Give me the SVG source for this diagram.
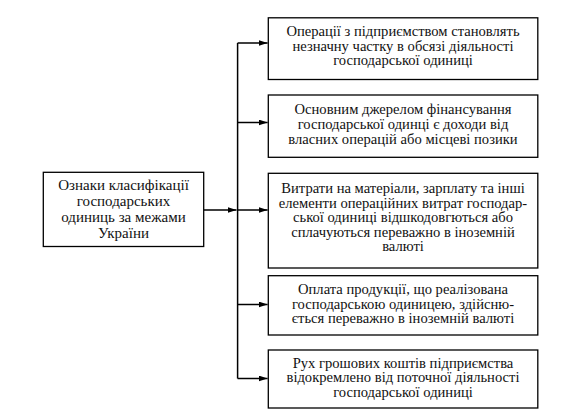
<svg xmlns="http://www.w3.org/2000/svg" width="579" height="415" viewBox="0 0 579 415">
<style>
.box{fill:#fff;stroke:#000;stroke-width:1.3}
.c{stroke:#000;stroke-width:1.5;fill:none}
</style>
<defs>
<marker id="ah" markerWidth="9" markerHeight="6" refX="9" refY="3" orient="auto" markerUnits="userSpaceOnUse">
<path d="M0,0 L9,3 L0,6 Z" fill="#000"/>
</marker>
</defs>
<rect width="579" height="415" fill="#fff"/>
<g id="connectors">
<line class="c" x1="237.6" y1="43" x2="237.6" y2="378.5"/>
<line class="c" x1="203.7" y1="210" x2="236.5" y2="210" marker-end="url(#ah)"/>
<line class="c" x1="237.6" y1="43" x2="267.6" y2="43" marker-end="url(#ah)"/>
<line class="c" x1="237.6" y1="122.5" x2="267.6" y2="122.5" marker-end="url(#ah)"/>
<line class="c" x1="237.6" y1="210" x2="267.6" y2="210" marker-end="url(#ah)"/>
<line class="c" x1="237.6" y1="304.5" x2="267.6" y2="304.5" marker-end="url(#ah)"/>
<line class="c" x1="237.6" y1="378.5" x2="267.6" y2="378.5" marker-end="url(#ah)"/>
</g>
<g id="source">
<rect class="box" x="43.3" y="172.3" width="160.4" height="74.2"/>
<text x="123.5" y="190" font-family="Liberation Serif" font-size="15" text-anchor="middle" fill="#111">Ознаки класифікації</text>
<text x="123.5" y="206" font-family="Liberation Serif" font-size="15" text-anchor="middle" fill="#111">господарських</text>
<text x="123.5" y="222.3" font-family="Liberation Serif" font-size="15" text-anchor="middle" fill="#111">одиниць за межами</text>
<text x="123.5" y="238.3" font-family="Liberation Serif" font-size="15" text-anchor="middle" fill="#111">України</text>
</g>
<g id="n1">
<rect class="box" x="268.3" y="17.8" width="269.5" height="61.7"/>
<text x="403" y="36" font-family="Liberation Serif" font-size="14.6" text-anchor="middle" fill="#111">Операції з підприємством становлять</text>
<text x="403" y="50.6" font-family="Liberation Serif" font-size="14.6" text-anchor="middle" fill="#111">незначну частку в обсязі діяльності</text>
<text x="403" y="65.2" font-family="Liberation Serif" font-size="14.6" text-anchor="middle" fill="#111">господарської одиниці</text>
</g>
<g id="n2">
<rect class="box" x="268.3" y="95" width="269.5" height="62.3"/>
<text x="403" y="114.3" font-family="Liberation Serif" font-size="14.6" text-anchor="middle" fill="#111">Основним джерелом фінансування</text>
<text x="403" y="128.9" font-family="Liberation Serif" font-size="14.6" text-anchor="middle" fill="#111">господарської одинці є доходи від</text>
<text x="403" y="143.5" font-family="Liberation Serif" font-size="14.6" text-anchor="middle" fill="#111">власних операцій або місцеві позики</text>
</g>
<g id="n3">
<rect class="box" x="268.3" y="173.3" width="269.5" height="94.7"/>
<text x="403" y="193" font-family="Liberation Serif" font-size="14.6" text-anchor="middle" fill="#111">Витрати на матеріали, зарплату та інші</text>
<text x="403" y="207.6" font-family="Liberation Serif" font-size="14.6" text-anchor="middle" fill="#111">елементи операційних витрат господар-</text>
<text x="403" y="222.2" font-family="Liberation Serif" font-size="14.6" text-anchor="middle" fill="#111">ської одиниці відшкодовгються або</text>
<text x="403" y="236.8" font-family="Liberation Serif" font-size="14.6" text-anchor="middle" fill="#111">сплачуються переважно в іноземній</text>
<text x="403" y="251.4" font-family="Liberation Serif" font-size="14.6" text-anchor="middle" fill="#111">валюті</text>
</g>
<g id="n4">
<rect class="box" x="268.3" y="275.7" width="269.5" height="59.3"/>
<text x="403" y="294" font-family="Liberation Serif" font-size="14.6" text-anchor="middle" fill="#111">Оплата продукції, що реалізована</text>
<text x="403" y="308.6" font-family="Liberation Serif" font-size="14.6" text-anchor="middle" fill="#111">господарською одиницею, здійсню-</text>
<text x="403" y="323.2" font-family="Liberation Serif" font-size="14.6" text-anchor="middle" fill="#111">ється переважно в іноземній валюті</text>
</g>
<g id="n5">
<rect class="box" x="268.3" y="350" width="269.5" height="58"/>
<text x="403" y="367.6" font-family="Liberation Serif" font-size="14.6" text-anchor="middle" fill="#111">Рух грошових коштів підприємства</text>
<text x="403" y="382.2" font-family="Liberation Serif" font-size="14.6" text-anchor="middle" fill="#111">відокремлено від поточної діяльності</text>
<text x="403" y="396.8" font-family="Liberation Serif" font-size="14.6" text-anchor="middle" fill="#111">господарської одиниці</text>
</g>
</svg>
